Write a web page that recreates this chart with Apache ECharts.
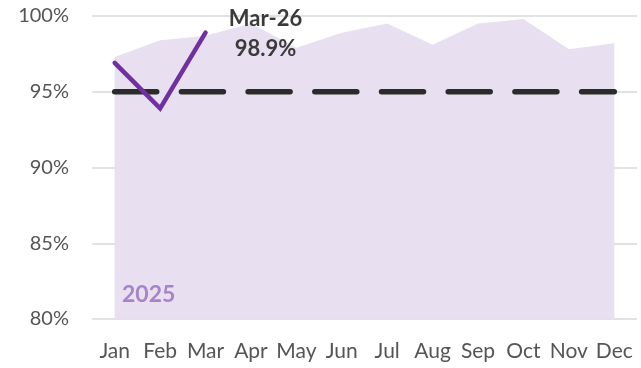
<!DOCTYPE html>
<html>
<head>
<meta charset="utf-8">
<script src="https://cdn.jsdelivr.net/npm/echarts@6/dist/echarts.min.js"></script>
<style>
  html, body { margin: 0; padding: 0; background: #fff; }
  #chart { width: 641px; height: 368px; }
</style>
</head>
<body>
<div id="chart"></div>
<script>
// Monthly compliance rate: 2025 baseline (area), 2026 year to date (line), 95% target
const months = ['Jan', 'Feb', 'Mar', 'Apr', 'May', 'Jun', 'Jul', 'Aug', 'Sep', 'Oct', 'Nov', 'Dec'];
const rate2025 = [97.3, 98.4, 98.7, 99.5, 97.9, 98.9, 99.5, 98.1, 99.5, 99.8, 97.8, 98.2];
const rate2026 = [96.9, 93.9, 98.9];
const target = [95, 95, 95, 95, 95, 95, 95, 95, 95, 95, 95, 95];
const yTicks = { min: 80, max: 100, step: 5 };
const latestLabel = 'Mar-26';
const baselineLabel = '2025';

const FONT = 'Lato, "Noto Sans", sans-serif';
const chart = echarts.init(document.getElementById('chart'), null, { renderer: 'canvas' });

chart.setOption({
  animation: false,
  backgroundColor: '#ffffff',
  grid: { left: 92, right: 4, top: 16, bottom: 49 },
  xAxis: {
    type: 'category',
    data: months,
    boundaryGap: true,
    axisLine: { show: false },
    axisTick: { show: false },
    axisLabel: { color: '#555555', fontSize: 21, fontFamily: FONT, margin: 22, interval: 0 }
  },
  yAxis: {
    type: 'value',
    min: yTicks.min,
    max: yTicks.max,
    interval: yTicks.step,
    axisLine: { show: false },
    axisTick: { show: false },
    axisLabel: {
      color: '#555555', fontSize: 20, fontFamily: FONT, margin: 23,
      formatter: v => v + '%'
    },
    splitLine: { lineStyle: { color: '#d9d9d9', width: 1.5 } }
  },
  graphic: [{
    type: 'text',
    left: 122,
    top: 283,
    z: 10,
    style: { text: baselineLabel, fill: '#a883c9', font: 'bold 23px ' + FONT }
  }],
  series: [
    {
      name: '2025',
      type: 'line',
      data: rate2025,
      symbol: 'none',
      lineStyle: { width: 0 },
      areaStyle: { color: '#e8e0f0', opacity: 1, origin: 'start' },
      z: 1
    },
    {
      name: 'Target',
      type: 'line',
      data: target,
      symbol: 'none',
      lineStyle: { color: '#2b2b2b', width: 5.5, type: [42, 24.7], cap: 'round' },
      z: 3
    },
    {
      name: '2026',
      type: 'line',
      data: rate2026,
      symbol: 'none',
      lineStyle: { color: '#7030a0', width: 4.5, cap: 'round', join: 'miter' },
      z: 4,
      markPoint: {
        symbol: 'circle',
        symbolSize: 0,
        data: [{ coord: [2, rate2026[2]] }],
        label: {
          show: true,
          position: 'inside',
          offset: [60, 1],
          align: 'center',
          verticalAlign: 'middle',
          lineHeight: 30,
          color: '#3a3a3a',
          fontSize: 22,
          fontWeight: 'bold',
          fontFamily: FONT,
          formatter: () => latestLabel + '\n' + rate2026[2].toFixed(1) + '%'
        }
      }
    }
  ]
});
</script>
</body>
</html>
